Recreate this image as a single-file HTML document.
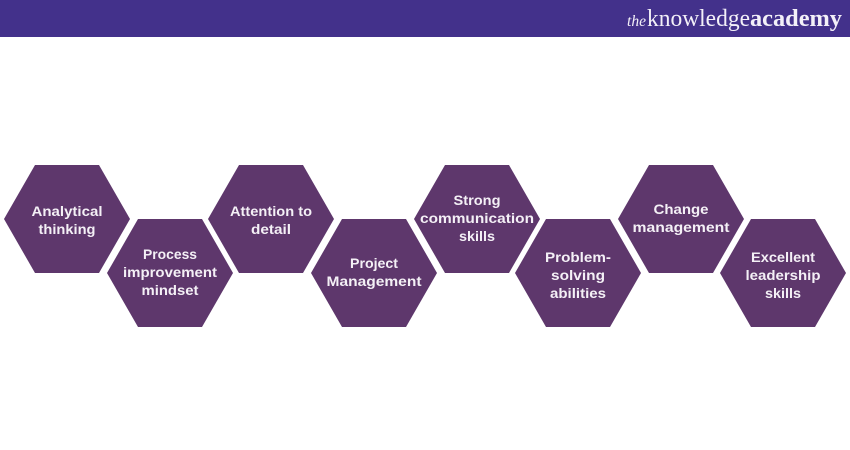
<!DOCTYPE html>
<html><head><meta charset="utf-8">
<style>
html,body{margin:0;padding:0;background:#fff}
svg{display:block}
.t{font-family:"Liberation Sans",sans-serif;font-weight:700;font-size:14px;fill:#f4f0f6;text-anchor:middle}
.l{font-family:"Liberation Serif",serif;fill:#f3f0f8}
</style></head>
<body>
<svg width="850" height="450" viewBox="0 0 850 450" xmlns="http://www.w3.org/2000/svg">
<rect width="850" height="450" fill="#fff"/>
<rect width="850" height="37" fill="#43318b"/>
<text class="l" x="627" y="26" font-size="16" font-style="italic" textLength="19" lengthAdjust="spacingAndGlyphs">the</text>
<text class="l" x="647" y="26" font-size="24" textLength="103" lengthAdjust="spacingAndGlyphs">knowledge</text>
<text class="l" x="750" y="26" font-size="24" font-weight="700" textLength="92" lengthAdjust="spacingAndGlyphs">academy</text>
<g fill="#5e376c">
<polygon points="4,219 35,165 99,165 130,219 99,273 35,273"/>
<polygon points="107,273 138,219 202,219 233,273 202,327 138,327"/>
<polygon points="208,219 239,165 303,165 334,219 303,273 239,273"/>
<polygon points="311,273 342,219 406,219 437,273 406,327 342,327"/>
<polygon points="414,219 445,165 509,165 540,219 509,273 445,273"/>
<polygon points="515,273 546,219 610,219 641,273 610,327 546,327"/>
<polygon points="618,219 649,165 713,165 744,219 713,273 649,273"/>
<polygon points="720,273 751,219 815,219 846,273 815,327 751,327"/>
</g>
<text class="t" x="67" y="216" textLength="71" lengthAdjust="spacingAndGlyphs">Analytical</text>
<text class="t" x="67" y="234" textLength="57" lengthAdjust="spacingAndGlyphs">thinking</text>
<text class="t" x="170" y="259" textLength="54" lengthAdjust="spacingAndGlyphs">Process</text>
<text class="t" x="170" y="277" textLength="94" lengthAdjust="spacingAndGlyphs">improvement</text>
<text class="t" x="170" y="295" textLength="57" lengthAdjust="spacingAndGlyphs">mindset</text>
<text class="t" x="271" y="216" textLength="82" lengthAdjust="spacingAndGlyphs">Attention to</text>
<text class="t" x="271" y="234" textLength="40" lengthAdjust="spacingAndGlyphs">detail</text>
<text class="t" x="374" y="268" textLength="48" lengthAdjust="spacingAndGlyphs">Project</text>
<text class="t" x="374" y="286" textLength="95" lengthAdjust="spacingAndGlyphs">Management</text>
<text class="t" x="477" y="205" textLength="47" lengthAdjust="spacingAndGlyphs">Strong</text>
<text class="t" x="477" y="223" textLength="114" lengthAdjust="spacingAndGlyphs">communication</text>
<text class="t" x="477" y="241" textLength="36" lengthAdjust="spacingAndGlyphs">skills</text>
<text class="t" x="578" y="262" textLength="66" lengthAdjust="spacingAndGlyphs">Problem-</text>
<text class="t" x="578" y="280" textLength="54" lengthAdjust="spacingAndGlyphs">solving</text>
<text class="t" x="578" y="298" textLength="56" lengthAdjust="spacingAndGlyphs">abilities</text>
<text class="t" x="681" y="214" textLength="55" lengthAdjust="spacingAndGlyphs">Change</text>
<text class="t" x="681" y="232" textLength="97" lengthAdjust="spacingAndGlyphs">management</text>
<text class="t" x="783" y="262" textLength="64" lengthAdjust="spacingAndGlyphs">Excellent</text>
<text class="t" x="783" y="280" textLength="75" lengthAdjust="spacingAndGlyphs">leadership</text>
<text class="t" x="783" y="298" textLength="36" lengthAdjust="spacingAndGlyphs">skills</text>
</svg>
</body></html>
